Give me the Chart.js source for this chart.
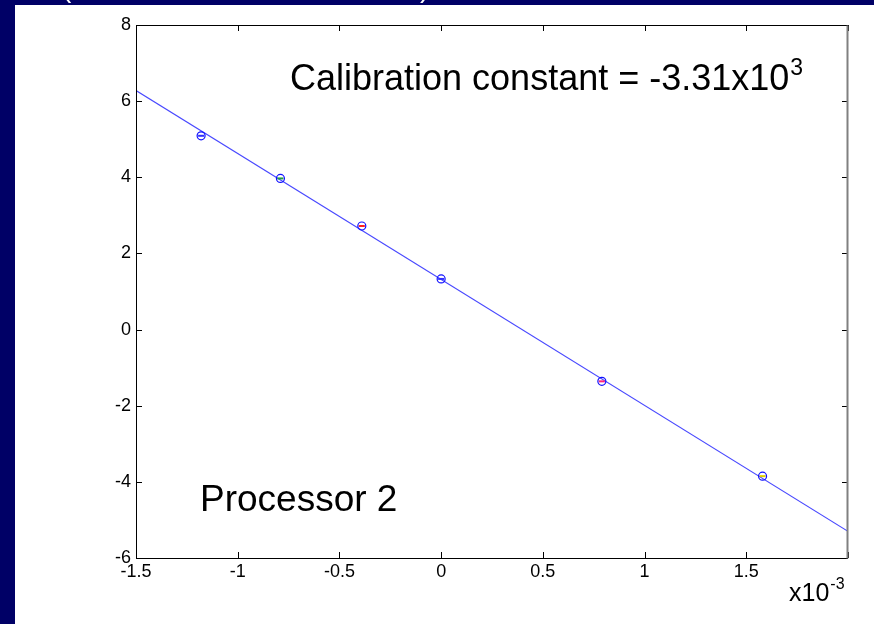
<!DOCTYPE html>
<html>
<head>
<meta charset="utf-8">
<title>Processor 2 calibration</title>
<script src="https://cdn.jsdelivr.net/npm/chart.js@4/dist/chart.umd.min.js"></script>
<style>
  html, body { margin: 0; padding: 0; background: #000066; }
  canvas { display: block; }
</style>
</head>
<body>
<canvas id="calChart" width="874" height="624"></canvas>
<script>
// Measured points (x in units of 1e-3)
const measX = [-1.18, -0.79, -0.39, 0.0, 0.79, 1.58];
const measY = [5.09, 3.97, 2.72, 1.33, -1.36, -3.85];
// little coloured bar drawn inside each circle
const barColors = ['#3030ff', '#20a040', '#ff2020', '#3030ff', '#ff2080', '#e0d000'];

// Fitted line end points
const fitX = [-1.5, 2.0];
const fitY = [6.28, -5.3];

// Axis ticks
const xTicks = [-1.5, -1, -0.5, 0, 0.5, 1, 1.5, 2];
const xTickLabels = ['-1.5', '-1', '-0.5', '0', '0.5', '1', '1.5', ''];
const yTicks = [-6, -4, -2, 0, 2, 4, 6, 8];
const yTickLabels = ['-6', '-4', '-2', '0', '2', '4', '6', '8'];

const FONT = '"Liberation Sans", Arial, Helvetica, sans-serif';

const toPoints = (xs, ys) => xs.map((x, i) => ({ x: x, y: ys[i] }));

// slide background: navy frame with a white panel
const backdrop = {
    id: 'backdrop',
    beforeDraw(chart) {
        const ctx = chart.ctx;
        ctx.save();
        ctx.fillStyle = '#000066';
        ctx.fillRect(0, 0, chart.width, chart.height);
        // bottoms of the heading brackets peeking above the panel
        ctx.fillStyle = '#ffffff';
        ctx.font = '28px ' + FONT;
        ctx.textBaseline = 'alphabetic';
        ctx.fillText('(', 62, -3);
        ctx.fillText(')', 420, -3);
        ctx.fillRect(15, 5, chart.width - 15, chart.height - 5);
        ctx.restore();
    }
};

// box around the plot with inward tick marks, plus annotations
const frame = {
    id: 'frame',
    afterDraw(chart) {
        const ctx = chart.ctx;
        const a = chart.chartArea;
        const xs = chart.scales.x, ys = chart.scales.y;
        const len = 6;
        ctx.save();
        ctx.lineWidth = 1;

        // ticks
        ctx.strokeStyle = '#000000';
        ctx.beginPath();
        xTicks.forEach(v => {
            const px = Math.round(xs.getPixelForValue(v)) + 0.5;
            ctx.moveTo(px, a.bottom); ctx.lineTo(px, a.bottom - len);
            ctx.moveTo(px, a.top); ctx.lineTo(px, a.top + len);
        });
        yTicks.forEach(v => {
            const py = Math.round(ys.getPixelForValue(v)) + 0.5;
            ctx.moveTo(a.left, py); ctx.lineTo(a.left + len, py);
            ctx.moveTo(a.right, py); ctx.lineTo(a.right - len, py);
        });
        ctx.stroke();

        // left, bottom, top in black
        const l = Math.round(a.left) + 0.5, r = Math.round(a.right) - 0.5;
        const t = Math.round(a.top) + 0.5, b = Math.round(a.bottom) + 0.5;
        ctx.beginPath();
        ctx.moveTo(r, t); ctx.lineTo(l, t); ctx.lineTo(l, b); ctx.lineTo(r, b);
        ctx.stroke();
        // right edge in grey
        ctx.strokeStyle = '#808080';
        ctx.lineWidth = 2;
        ctx.beginPath();
        ctx.moveTo(r, t); ctx.lineTo(r, b);
        ctx.stroke();

        // annotations
        ctx.fillStyle = '#000000';
        ctx.textBaseline = 'alphabetic';
        ctx.textAlign = 'left';
        ctx.font = '36px ' + FONT;
        const main = 'Calibration constant = -3.31x10';
        ctx.fillText(main, 290, 90);
        const w = ctx.measureText(main).width;
        ctx.font = '23px ' + FONT;
        ctx.fillText('3', 290 + w + 1, 75);

        ctx.font = '37px ' + FONT;
        ctx.fillText('Processor 2', 200, 511);

        ctx.font = '25px ' + FONT;
        ctx.fillText('x10', 789, 601);
        const w2 = ctx.measureText('x10').width;
        ctx.font = '16px ' + FONT;
        ctx.fillText('-3', 789 + w2 + 1, 589);
        ctx.restore();
    }
};

new Chart(document.getElementById('calChart').getContext('2d'), {
    type: 'scatter',
    data: {
        datasets: [
            {
                label: 'fit',
                data: toPoints(fitX, fitY),
                showLine: true,
                borderColor: 'rgba(40, 40, 255, 0.85)',
                borderWidth: 1.2,
                pointRadius: 0,
                order: 3
            },
            {
                label: 'bars',
                data: toPoints(measX, measY),
                pointStyle: 'line',
                pointRadius: 3,
                borderColor: barColors,
                borderWidth: 2,
                order: 2
            },
            {
                label: 'measured',
                data: toPoints(measX, measY),
                pointStyle: 'circle',
                pointRadius: 4,
                borderColor: '#1010ff',
                backgroundColor: 'rgba(0,0,0,0)',
                borderWidth: 1.2,
                order: 1
            }
        ]
    },
    options: {
        responsive: false,
        animation: false,
        layout: { padding: { left: 15, top: 25, right: 26, bottom: 0 } },
        plugins: {
            legend: { display: false },
            tooltip: { enabled: false }
        },
        scales: {
            x: {
                type: 'linear',
                min: -1.5,
                max: 2,
                afterBuildTicks: scale => { scale.ticks = xTicks.map(v => ({ value: v })); },
                afterFit: scale => { scale.height = 66; },
                grid: { display: false, drawTicks: false },
                border: { display: false },
                ticks: {
                    autoSkip: false,
                    maxRotation: 0,
                    padding: 3,
                    color: '#000000',
                    font: { family: FONT, size: 18 },
                    callback: v => xTickLabels[xTicks.indexOf(v)]
                }
            },
            y: {
                type: 'linear',
                min: -6,
                max: 8,
                afterBuildTicks: scale => { scale.ticks = yTicks.map(v => ({ value: v })); },
                afterFit: scale => { scale.width = 121; },
                grid: { display: false, drawTicks: false },
                border: { display: false },
                ticks: {
                    autoSkip: false,
                    padding: 5,
                    color: '#000000',
                    font: { family: FONT, size: 18 },
                    callback: v => yTickLabels[yTicks.indexOf(v)]
                }
            }
        }
    },
    plugins: [backdrop, frame]
});
</script>
</body>
</html>
